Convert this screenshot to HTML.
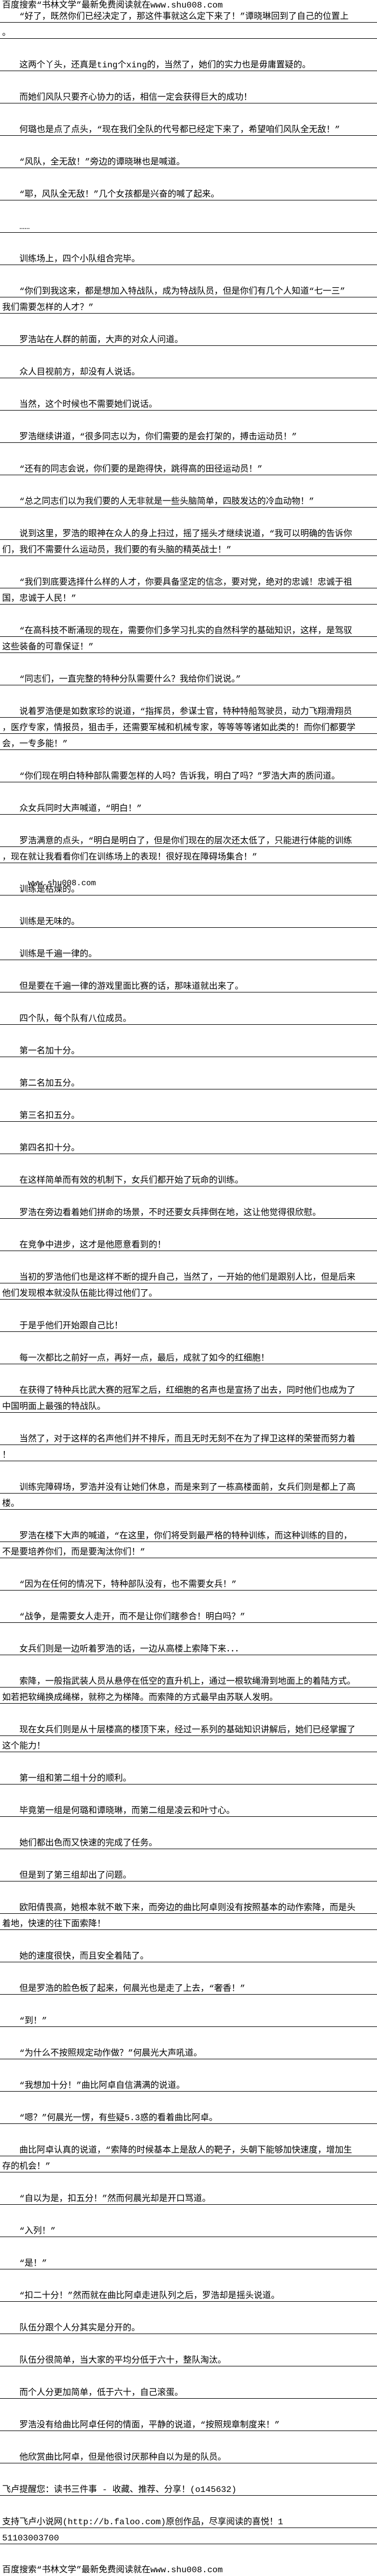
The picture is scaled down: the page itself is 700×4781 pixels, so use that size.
<!DOCTYPE html>
<html><head><meta charset="utf-8">
<style>
html,body{margin:0;padding:0;background:#fff;}
body{width:700px;height:4781px;position:relative;overflow:hidden;font-family:"Liberation Mono","Noto Sans CJK SC",monospace;font-size:16px;color:#000;}
#wrap{position:absolute;left:0;top:12px;width:700px;}
.l{height:29px;border-bottom:1px solid #000;box-sizing:content-box;white-space:nowrap;overflow:visible;}
.l span{display:block;padding-top:9px;line-height:20px;padding-left:4px;}
.l.i span{padding-left:36px;}
.g{height:30px;}
.hd{position:absolute;left:4px;white-space:nowrap;font-size:16px;line-height:20px;}
.wm{position:absolute;left:52px;top:1631px;font-family:"Liberation Mono",monospace;font-size:15px;white-space:nowrap;}
</style></head><body>
<div class="hd" style="top:0px">百度搜索“书林文学”最新免费阅读就在www.shu008.com</div>
<div class="wm">www.shu008.com</div>
<div id="wrap">
<div class="l i"><span>“好了，既然你们已经决定了，那这件事就这么定下来了！”谭晓琳回到了自己的位置上</span></div>
<div class="l"><span>。</span></div><div class="g"></div>
<div class="l i"><span>这两个丫头，还真是ting个xing的，当然了，她们的实力也是毋庸置疑的。</span></div><div class="g"></div>
<div class="l i"><span>而她们风队只要齐心协力的话，相信一定会获得巨大的成功！</span></div><div class="g"></div>
<div class="l i"><span>何璐也是点了点头，“现在我们全队的代号都已经定下来了，希望咱们风队全无敌！”</span></div><div class="g"></div>
<div class="l i"><span>“风队，全无敌！”旁边的谭晓琳也是喊道。</span></div><div class="g"></div>
<div class="l i"><span>“耶，风队全无敌！”几个女孩都是兴奋的喊了起来。</span></div><div class="g"></div>
<div class="l i"><span>……</span></div><div class="g"></div>
<div class="l i"><span>训练场上，四个小队组合完毕。</span></div><div class="g"></div>
<div class="l i"><span>“你们到我这来，都是想加入特战队，成为特战队员，但是你们有几个人知道“七一三”</span></div>
<div class="l"><span>我们需要怎样的人才？”</span></div><div class="g"></div>
<div class="l i"><span>罗浩站在人群的前面，大声的对众人问道。</span></div><div class="g"></div>
<div class="l i"><span>众人目视前方，却没有人说话。</span></div><div class="g"></div>
<div class="l i"><span>当然，这个时候也不需要她们说话。</span></div><div class="g"></div>
<div class="l i"><span>罗浩继续讲道，“很多同志以为，你们需要的是会打架的，搏击运动员！”</span></div><div class="g"></div>
<div class="l i"><span>“还有的同志会说，你们要的是跑得快，跳得高的田径运动员！”</span></div><div class="g"></div>
<div class="l i"><span>“总之同志们以为我们要的人无非就是一些头脑简单，四肢发达的冷血动物！”</span></div><div class="g"></div>
<div class="l i"><span>说到这里，罗浩的眼神在众人的身上扫过，摇了摇头才继续说道，“我可以明确的告诉你</span></div>
<div class="l"><span>们，我们不需要什么运动员，我们要的有头脑的精英战士！”</span></div><div class="g"></div>
<div class="l i"><span>“我们到底要选择什么样的人才，你要具备坚定的信念，要对党，绝对的忠诚！忠诚于祖</span></div>
<div class="l"><span>国，忠诚于人民！”</span></div><div class="g"></div>
<div class="l i"><span>“在高科技不断涌现的现在，需要你们多学习扎实的自然科学的基础知识，这样，是驾驭</span></div>
<div class="l"><span>这些装备的可靠保证！”</span></div><div class="g"></div>
<div class="l i"><span>“同志们，一直完整的特种分队需要什么？我给你们说说。”</span></div><div class="g"></div>
<div class="l i"><span>说着罗浩便是如数家珍的说道，“指挥员，参谋士官，特种特船驾驶员，动力飞翔滑翔员</span></div>
<div class="l"><span>，医疗专家，情报员，狙击手，还需要军械和机械专家，等等等等诸如此类的！而你们都要学</span></div>
<div class="l"><span>会，一专多能！”</span></div><div class="g"></div>
<div class="l i"><span>“你们现在明白特种部队需要怎样的人吗？告诉我，明白了吗？”罗浩大声的质问道。</span></div><div class="g"></div>
<div class="l i"><span>众女兵同时大声喊道，“明白！”</span></div><div class="g"></div>
<div class="l i"><span>罗浩满意的点头，“明白是明白了，但是你们现在的层次还太低了，只能进行体能的训练</span></div>
<div class="l"><span>，现在就让我看看你们在训练场上的表现！很好现在障碍场集合！”</span></div><div class="g"></div>
<div class="l i"><span>训练是枯燥的。</span></div><div class="g"></div>
<div class="l i"><span>训练是无味的。</span></div><div class="g"></div>
<div class="l i"><span>训练是千遍一律的。</span></div><div class="g"></div>
<div class="l i"><span>但是要在千遍一律的游戏里面比赛的话，那味道就出来了。</span></div><div class="g"></div>
<div class="l i"><span>四个队，每个队有八位成员。</span></div><div class="g"></div>
<div class="l i"><span>第一名加十分。</span></div><div class="g"></div>
<div class="l i"><span>第二名加五分。</span></div><div class="g"></div>
<div class="l i"><span>第三名扣五分。</span></div><div class="g"></div>
<div class="l i"><span>第四名扣十分。</span></div><div class="g"></div>
<div class="l i"><span>在这样简单而有效的机制下，女兵们都开始了玩命的训练。</span></div><div class="g"></div>
<div class="l i"><span>罗浩在旁边看着她们拼命的场景，不时还要女兵摔倒在地，这让他觉得很欣慰。</span></div><div class="g"></div>
<div class="l i"><span>在竞争中进步，这才是他愿意看到的！</span></div><div class="g"></div>
<div class="l i"><span>当初的罗浩他们也是这样不断的提升自己，当然了，一开始的他们是跟别人比，但是后来</span></div>
<div class="l"><span>他们发现根本就没队伍能比得过他们了。</span></div><div class="g"></div>
<div class="l i"><span>于是乎他们开始跟自己比！</span></div><div class="g"></div>
<div class="l i"><span>每一次都比之前好一点，再好一点，最后，成就了如今的红细胞！</span></div><div class="g"></div>
<div class="l i"><span>在获得了特种兵比武大赛的冠军之后，红细胞的名声也是宣扬了出去，同时他们也成为了</span></div>
<div class="l"><span>中国明面上最强的特战队。</span></div><div class="g"></div>
<div class="l i"><span>当然了，对于这样的名声他们并不排斥，而且无时无刻不在为了捍卫这样的荣誉而努力着</span></div>
<div class="l"><span>！</span></div><div class="g"></div>
<div class="l i"><span>训练完障碍场，罗浩并没有让她们休息，而是来到了一栋高楼面前，女兵们则是都上了高</span></div>
<div class="l"><span>楼。</span></div><div class="g"></div>
<div class="l i"><span>罗浩在楼下大声的喊道，“在这里，你们将受到最严格的特种训练，而这种训练的目的，</span></div>
<div class="l"><span>不是要培养你们，而是要淘汰你们！”</span></div><div class="g"></div>
<div class="l i"><span>“因为在任何的情况下，特种部队没有，也不需要女兵！”</span></div><div class="g"></div>
<div class="l i"><span>“战争，是需要女人走开，而不是让你们瞎参合！明白吗？”</span></div><div class="g"></div>
<div class="l i"><span>女兵们则是一边听着罗浩的话，一边从高楼上索降下来．．．</span></div><div class="g"></div>
<div class="l i"><span>索降，一般指武装人员从悬停在低空的直升机上，通过一根软绳滑到地面上的着陆方式。</span></div>
<div class="l"><span>如若把软绳换成绳梯，就称之为梯降。而索降的方式最早由苏联人发明。</span></div><div class="g"></div>
<div class="l i"><span>现在女兵们则是从十层楼高的楼顶下来，经过一系列的基础知识讲解后，她们已经掌握了</span></div>
<div class="l"><span>这个能力！</span></div><div class="g"></div>
<div class="l i"><span>第一组和第二组十分的顺利。</span></div><div class="g"></div>
<div class="l i"><span>毕竟第一组是何璐和谭晓琳，而第二组是凌云和叶寸心。</span></div><div class="g"></div>
<div class="l i"><span>她们都出色而又快速的完成了任务。</span></div><div class="g"></div>
<div class="l i"><span>但是到了第三组却出了问题。</span></div><div class="g"></div>
<div class="l i"><span>欧阳倩畏高，她根本就不敢下来，而旁边的曲比阿卓则没有按照基本的动作索降，而是头</span></div>
<div class="l"><span>着地，快速的往下面索降！</span></div><div class="g"></div>
<div class="l i"><span>她的速度很快，而且安全着陆了。</span></div><div class="g"></div>
<div class="l i"><span>但是罗浩的脸色板了起来，何晨光也是走了上去，“奢香！”</span></div><div class="g"></div>
<div class="l i"><span>“到！”</span></div><div class="g"></div>
<div class="l i"><span>“为什么不按照规定动作做？”何晨光大声吼道。</span></div><div class="g"></div>
<div class="l i"><span>“我想加十分！”曲比阿卓自信满满的说道。</span></div><div class="g"></div>
<div class="l i"><span>“嗯？”何晨光一愣，有些疑5.3惑的看着曲比阿卓。</span></div><div class="g"></div>
<div class="l i"><span>曲比阿卓认真的说道，“索降的时候基本上是敌人的靶子，头朝下能够加快速度，增加生</span></div>
<div class="l"><span>存的机会！”</span></div><div class="g"></div>
<div class="l i"><span>“自以为是，扣五分！”然而何晨光却是开口骂道。</span></div><div class="g"></div>
<div class="l i"><span>“入列！”</span></div><div class="g"></div>
<div class="l i"><span>“是！”</span></div><div class="g"></div>
<div class="l i"><span>“扣二十分！”然而就在曲比阿卓走进队列之后，罗浩却是摇头说道。</span></div><div class="g"></div>
<div class="l i"><span>队伍分跟个人分其实是分开的。</span></div><div class="g"></div>
<div class="l i"><span>队伍分很简单，当大家的平均分低于六十，整队淘汰。</span></div><div class="g"></div>
<div class="l i"><span>而个人分更加简单，低于六十，自己滚蛋。</span></div><div class="g"></div>
<div class="l i"><span>罗浩没有给曲比阿卓任何的情面，平静的说道，“按照规章制度来！”</span></div><div class="g"></div>
<div class="l i"><span>他欣赏曲比阿卓，但是他很讨厌那种自以为是的队员。</span></div><div class="g"></div>
<div class="l"><span>飞卢提醒您：读书三件事 - 收藏、推荐、分享！(o145632)</span></div><div class="g"></div>
<div class="l"><span>支持飞卢小说网(http://b.faloo.com)原创作品，尽享阅读的喜悦！1</span></div>
<div class="l"><span>51103003700</span></div>
</div>
<div class="hd" style="top:4760px">百度搜索“书林文学”最新免费阅读就在www.shu008.com</div>
</body></html>
